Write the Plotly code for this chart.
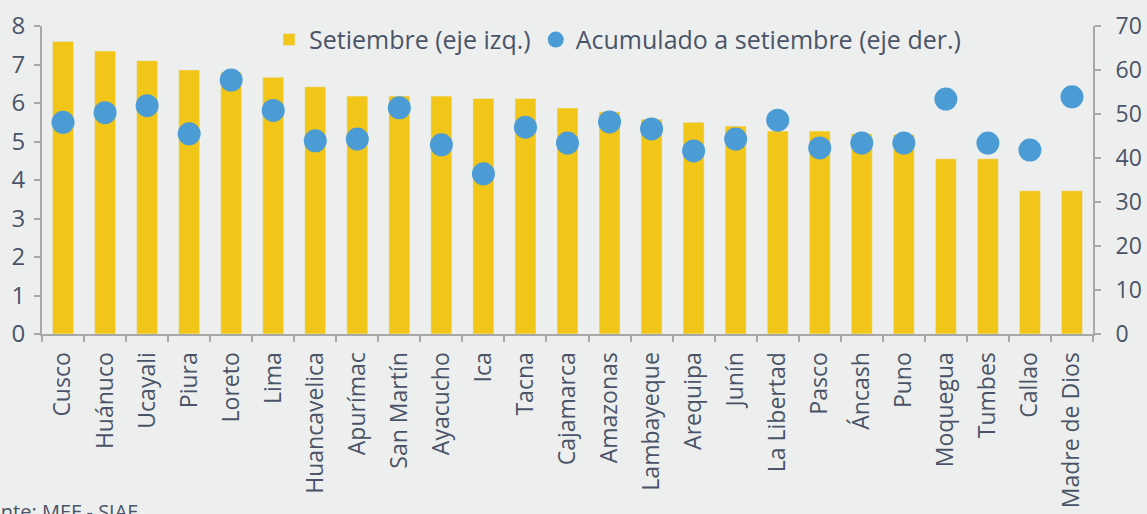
import plotly.graph_objects as go

regiones = ["Cusco", "Huánuco", "Ucayali", "Piura", "Loreto", "Lima", "Huancavelica",
            "Apurímac", "San Martín", "Ayacucho", "Ica", "Tacna", "Cajamarca", "Amazonas",
            "Lambayeque", "Arequipa", "Junín", "La Libertad", "Pasco", "Áncash", "Puno",
            "Moquegua", "Tumbes", "Callao", "Madre de Dios"]
setiembre = [7.6, 7.35, 7.1, 6.86, 6.8, 6.67, 6.42, 6.18, 6.18, 6.18, 6.12, 6.12, 5.87,
             5.77, 5.58, 5.5, 5.4, 5.27, 5.27, 5.2, 5.18, 4.55, 4.55, 3.72, 3.72]
acumulado = [48.1, 50.3, 51.9, 45.5, 57.7, 50.8, 43.9, 44.3, 51.4, 43.0, 36.4, 47.0, 43.4,
             48.2, 46.6, 41.6, 44.3, 48.6, 42.3, 43.4, 43.4, 53.4, 43.4, 41.8, 53.9]

text_color = "#4A5468"
axis_color = "#A8A8A8"
bg = "#EDEFEE"
font_family = "Open Sans, sans-serif"

fig = go.Figure()
fig.add_trace(go.Bar(x=regiones, y=setiembre, name="Setiembre (eje izq.)",
                     marker=dict(color="#F2C618"), width=0.5, yaxis="y"))
fig.add_trace(go.Scatter(x=regiones, y=acumulado, name="Acumulado a setiembre (eje der.)",
                         mode="markers", marker=dict(color="#4B9BD5", size=23),
                         yaxis="y2"))

fig.update_layout(
    width=1147, height=514,
    margin=dict(l=42, r=54, t=26, b=180, autoexpand=False),
    paper_bgcolor=bg, plot_bgcolor=bg,
    font=dict(family=font_family, color=text_color, size=22),
    showlegend=True,
    legend=dict(orientation="h", x=0.216, y=0.955, xanchor="left", yanchor="middle",
                font=dict(size=25, color=text_color), bgcolor="rgba(0,0,0,0)",
                itemwidth=30, traceorder="normal"),
    xaxis=dict(type="category", tickangle=-90, showline=True, linecolor=axis_color,
               linewidth=2, ticks="outside", tickson="boundaries", ticklen=6,
               tickcolor=axis_color, tickwidth=2, tickfont=dict(size=23, color=text_color),
               showgrid=False, range=[-0.5, 24.5], automargin=False, ticklabelstandoff=7),
    yaxis=dict(range=[0, 8], dtick=1, showline=True, linecolor=axis_color, linewidth=2,
               ticks="outside", ticklen=6, tickcolor=axis_color, tickwidth=2,
               showgrid=False, zeroline=False, tickfont=dict(size=24, color=text_color),
               automargin=False, ticklabelstandoff=4),
    yaxis2=dict(range=[0, 70], dtick=10, overlaying="y", side="right", showline=True,
                linecolor=axis_color, linewidth=2, ticks="outside", ticklen=6,
                tickcolor=axis_color, tickwidth=2, showgrid=False, zeroline=False,
                tickfont=dict(size=23, color=text_color), automargin=False,
                ticklabelstandoff=10),
)

fig.add_annotation(text="Fuente: MEF - SIAF", xref="paper", yref="paper",
                   x=-0.0733, y=-0.575, xanchor="left", yanchor="middle", showarrow=False,
                   font=dict(size=20, color=text_color))

fig.write_html("out.html", config={"displayModeBar": False},
               post_script="document.body.style.margin='0';"
                           "document.body.style.background='#EDEFEE';")
